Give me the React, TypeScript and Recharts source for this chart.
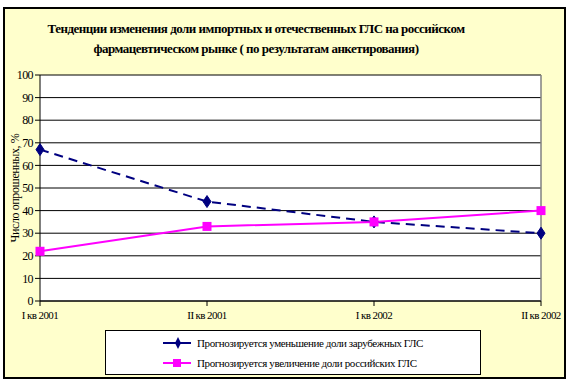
import { LineChart, Line, XAxis, YAxis, CartesianGrid, Legend, ReferenceLine } from "recharts";

const categories = ["I кв 2001", "II кв 2001", "I кв 2002", "II кв 2002"];
const foreignShare = [67, 44, 35, 30];
const russianShare = [22, 33, 35, 40];
const yTicks = [0, 10, 20, 30, 40, 50, 60, 70, 80, 90, 100];

const seriesNames = {
  foreign: "Прогнозируется уменьшение доли зарубежных ГЛС",
  russian: "Прогнозируется увеличение доли российских ГЛС",
};

const data = categories.map((quarter, i) => ({
  quarter,
  foreign: foreignShare[i],
  russian: russianShare[i],
}));

const NAVY = "#000080";
const MAGENTA = "#FF00FF";
const serif = "Liberation Serif";

// diamond marker, like the Excel one
function Diamond(props: any) {
  const { cx, cy, index } = props;
  if (cx == null || cy == null) return null;
  return (
    <polygon
      key={"d" + index}
      points={`${cx},${cy - 6} ${cx + 4},${cy} ${cx},${cy + 6} ${cx - 4},${cy}`}
      fill={NAVY}
      stroke={NAVY}
    />
  );
}

function Square(props: any) {
  const { cx, cy, index } = props;
  if (cx == null || cy == null) return null;
  return <rect key={"s" + index} x={cx - 4.5} y={cy - 4.5} width={9} height={9} fill={MAGENTA} />;
}

function LegendBox() {
  const rows = [
    { name: seriesNames.foreign, color: NAVY, dashed: true },
    { name: seriesNames.russian, color: MAGENTA, dashed: false },
  ];
  return (
    <div
      style={{
        border: "1.5px solid #000",
        background: "#fff",
        width: 376,
        height: 45,
        boxSizing: "border-box",
        paddingTop: 2,
      }}
    >
      {rows.map((r) => (
        <div key={r.name} style={{ display: "flex", alignItems: "center", height: 20, paddingLeft: 57 }}>
          <svg width={30} height={12}>
            <line x1={0} y1={6} x2={28} y2={6} stroke={r.color} strokeWidth={2} />
            {r.dashed ? (
              <polygon points="15,0 18,6 15,12 12,6" fill={r.color} />
            ) : (
              <rect x={10} y={2} width={8} height={8} fill={r.color} />
            )}
          </svg>
          <span
            style={{
              fontFamily: serif,
              fontSize: 11,
              letterSpacing: -0.4,
              color: "#000",
              marginLeft: 4,
              whiteSpace: "nowrap",
            }}
          >
            {r.name}
          </span>
        </div>
      ))}
    </div>
  );
}

export default function App() {
  return (
    <div style={{ position: "absolute", left: 0, top: 0, width: 570, height: 384, background: "#fff" }}>
      {/* outer chart frame */}
      <div
        style={{
          position: "absolute",
          left: 3,
          top: 7,
          width: 563,
          height: 372,
          boxSizing: "border-box",
          border: "2px solid #000",
          background: "#FFFFCC",
        }}
      />
      <div
        style={{
          position: "absolute",
          left: 0,
          top: 19,
          width: 512,
          textAlign: "center",
          fontFamily: serif,
          fontWeight: "bold",
          fontSize: 13,
          letterSpacing: -0.5,
          lineHeight: "20px",
          color: "#000",
        }}
      >
        Тенденции изменения доли импортных и отечественных ГЛС на российском
        <br />
        фармацевтическом рынке ( по результатам анкетирования)
      </div>
      <div style={{ position: "absolute", left: 0, top: 0 }}>
        <LineChart width={570} height={384} data={data} margin={{ top: 75, right: 29, bottom: 13, left: 10 }}>
          <CartesianGrid vertical={false} stroke="#000" strokeWidth={1} fill="#fff" />
          <ReferenceLine x={categories[categories.length - 1]} stroke="#808080" strokeWidth={1.5} />
          <XAxis
            dataKey="quarter"
            height={25}
            axisLine={{ stroke: "#000" }}
            tickLine={{ stroke: "#000" }}
            tickSize={5}
            tick={{ fontFamily: serif, fontSize: 11, letterSpacing: -0.6, fill: "#000" }}
            tickMargin={5}
            interval={0}
          />
          <YAxis
            width={30}
            domain={[0, 100]}
            ticks={yTicks}
            interval={0}
            axisLine={{ stroke: "#000" }}
            tickLine={{ stroke: "#000" }}
            tickSize={5}
            tickMargin={2}
            tick={{ fontFamily: serif, fontSize: 12, letterSpacing: -0.6, fill: "#000" }}
            label={{
              value: "Число опрошенных, %",
              angle: -90,
              position: "insideLeft",
              offset: 5,
              style: { fontFamily: serif, fontSize: 12, letterSpacing: -0.4, fill: "#000", textAnchor: "middle" },
            }}
          />
          <Line
            dataKey="foreign"
            name={seriesNames.foreign}
            stroke={NAVY}
            strokeWidth={2}
            strokeDasharray="9 6"
            dot={Diamond}
            activeDot={false}
            isAnimationActive={false}
          />
          <Line
            dataKey="russian"
            name={seriesNames.russian}
            stroke={MAGENTA}
            strokeWidth={2}
            dot={Square}
            activeDot={false}
            isAnimationActive={false}
          />
          <Legend
            content={<LegendBox />}
            wrapperStyle={{ position: "absolute", left: 105, top: 330, width: 376, height: 45 }}
          />
        </LineChart>
      </div>
    </div>
  );
}
